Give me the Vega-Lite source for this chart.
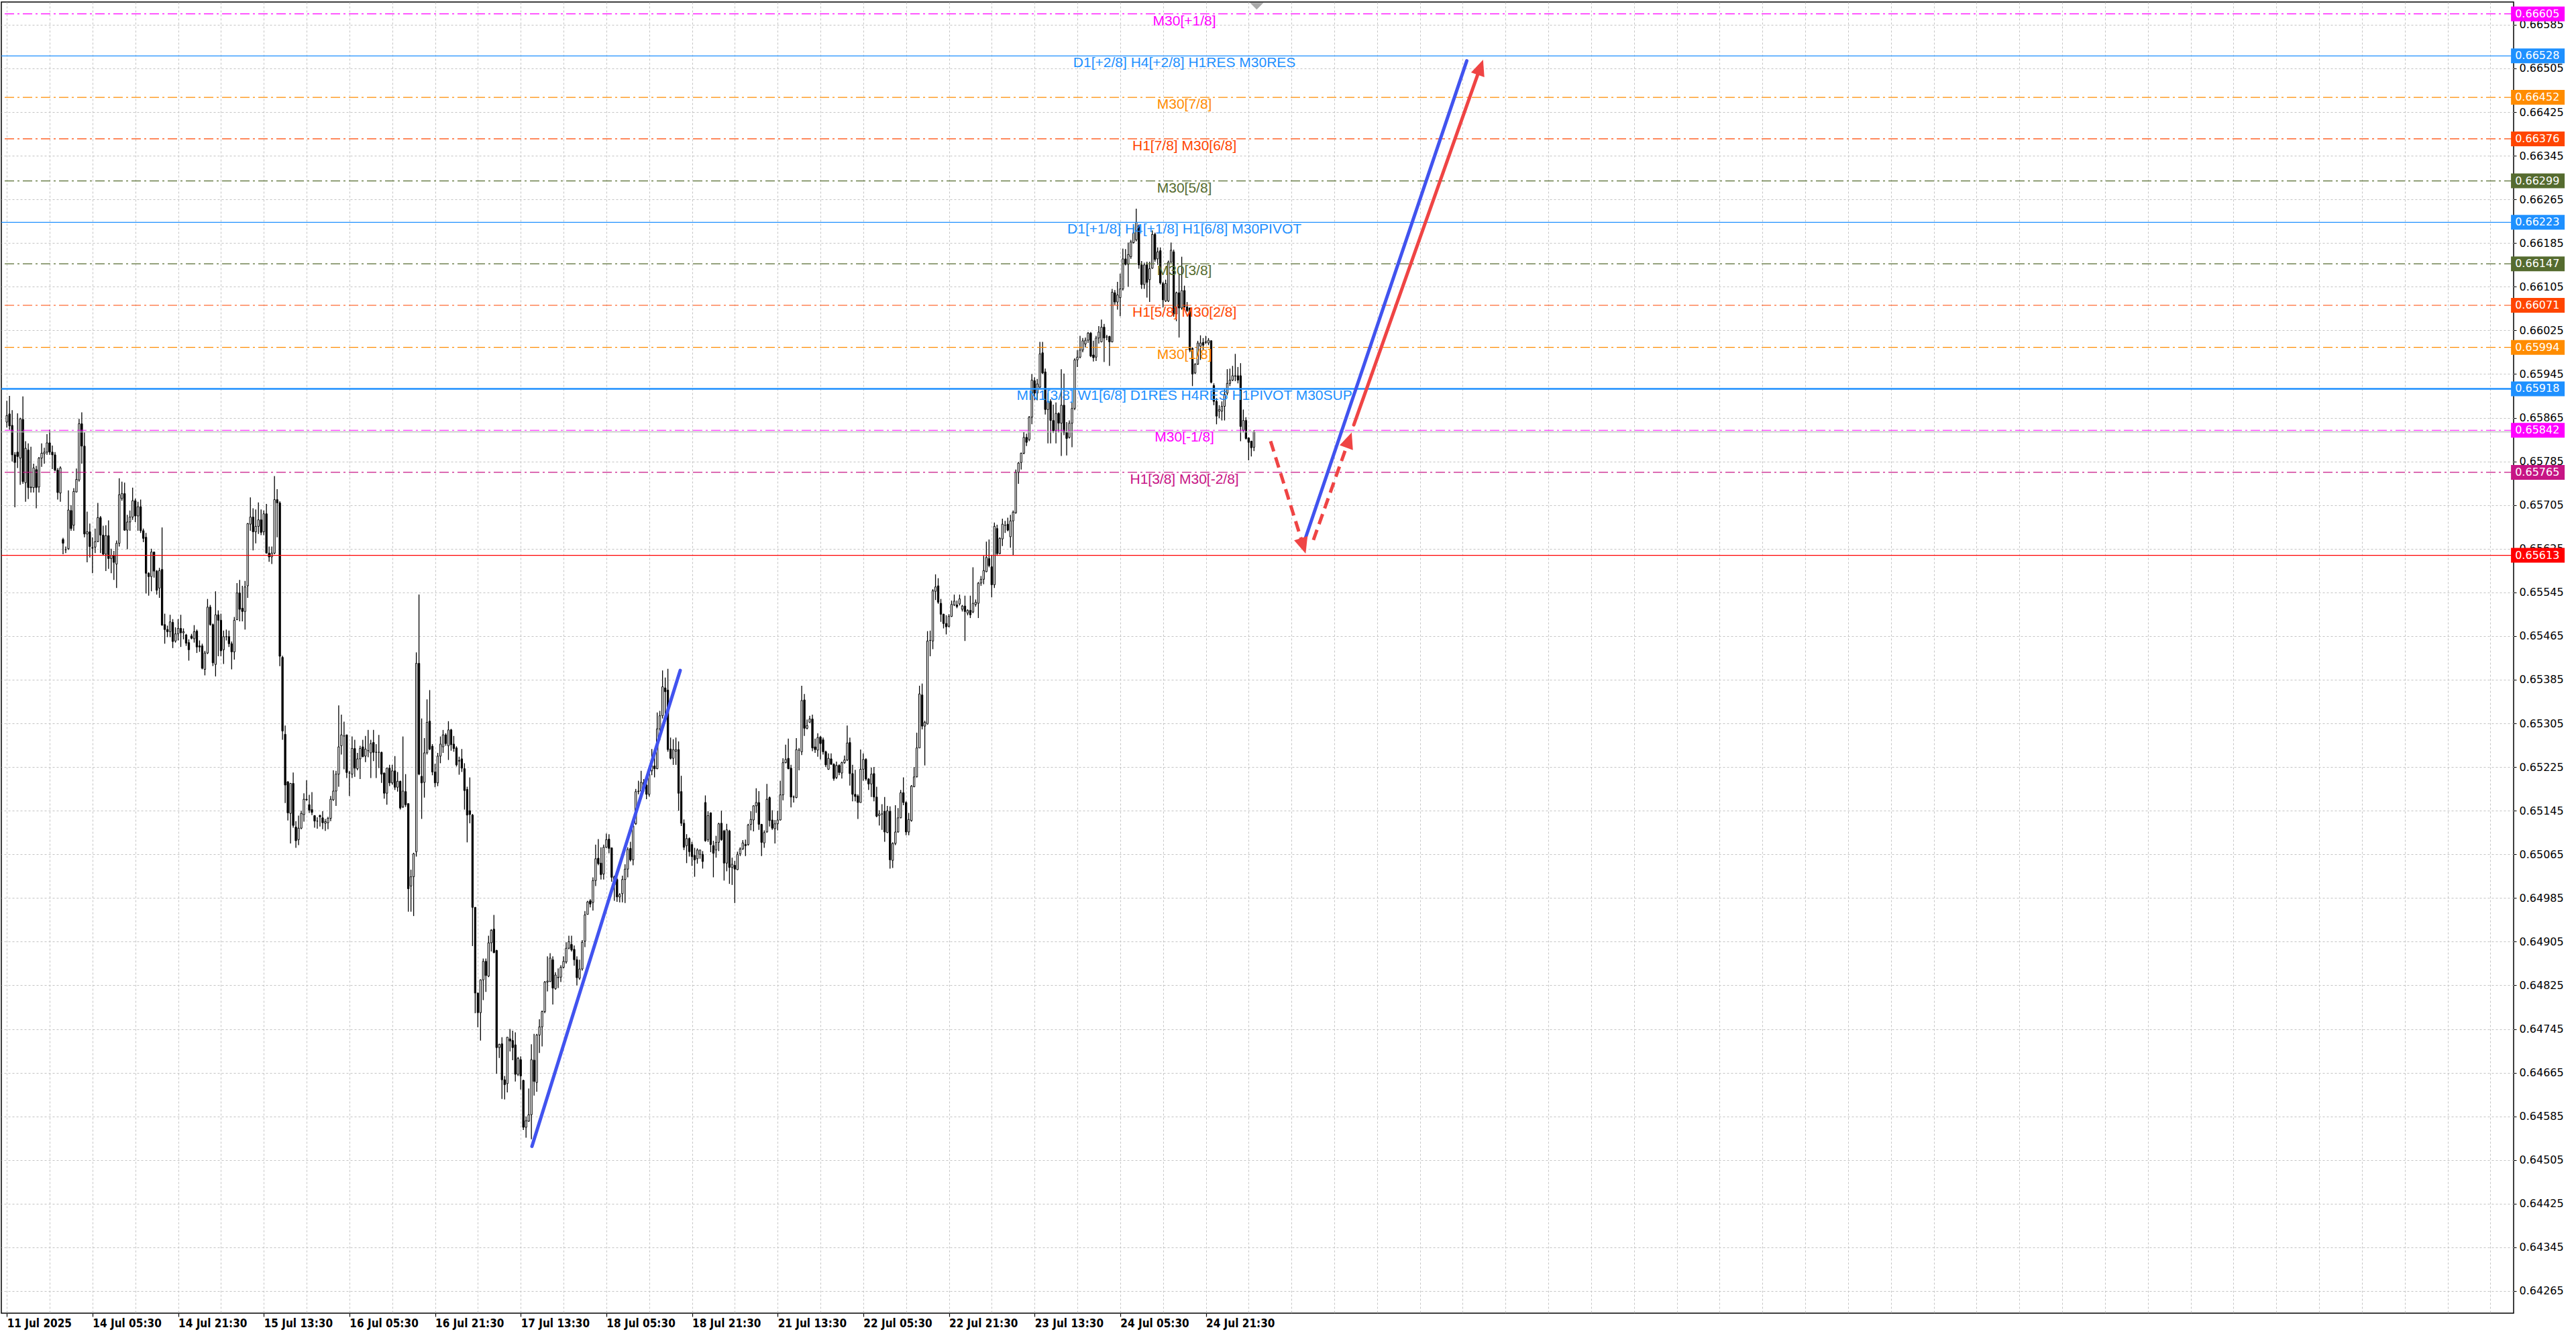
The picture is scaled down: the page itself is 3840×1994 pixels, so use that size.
{
  "$schema": "https://vega.github.io/schema/vega-lite/v6.json",
  "width": 3745,
  "height": 1954,
  "autosize": {"type": "none"},
  "padding": {"left": 2, "top": 3, "right": 93, "bottom": 37},
  "background": "#ffffff",
  "config": {"view": {"stroke": "#000000", "strokeWidth": 1.5}},
  "datasets": {
    "bars": [
      {"i":0,"o":0.65857,"h":0.65896,"l":0.65847,"c":0.65869},
      {"i":1,"o":0.65872,"h":0.65905,"l":0.65843,"c":0.65850},
      {"i":2,"o":0.65851,"h":0.65879,"l":0.65785,"c":0.65797},
      {"i":3,"o":0.65797,"h":0.65802,"l":0.65701,"c":0.65783},
      {"i":4,"o":0.65802,"h":0.65873,"l":0.65773,"c":0.65794},
      {"i":5,"o":0.65791,"h":0.65865,"l":0.65742,"c":0.65863},
      {"i":6,"o":0.65862,"h":0.65904,"l":0.65744,"c":0.65748},
      {"i":7,"o":0.65746,"h":0.65822,"l":0.65711,"c":0.65809},
      {"i":8,"o":0.65806,"h":0.65818,"l":0.65716,"c":0.65737},
      {"i":9,"o":0.65738,"h":0.65812,"l":0.65728,"c":0.65737},
      {"i":10,"o":0.65737,"h":0.65781,"l":0.65728,"c":0.65773},
      {"i":11,"o":0.65770,"h":0.65777,"l":0.65699,"c":0.65737},
      {"i":12,"o":0.65738,"h":0.65793,"l":0.65728,"c":0.65791},
      {"i":13,"o":0.65791,"h":0.65818,"l":0.65775,"c":0.65800},
      {"i":14,"o":0.65799,"h":0.65810,"l":0.65781,"c":0.65802},
      {"i":15,"o":0.65802,"h":0.65835,"l":0.65797,"c":0.65819},
      {"i":16,"o":0.65819,"h":0.65843,"l":0.65797,"c":0.65802},
      {"i":17,"o":0.65802,"h":0.65814,"l":0.65771,"c":0.65797},
      {"i":18,"o":0.65797,"h":0.65802,"l":0.65767,"c":0.65769},
      {"i":19,"o":0.65769,"h":0.65773,"l":0.65715,"c":0.65728},
      {"i":20,"o":0.65727,"h":0.65776,"l":0.65711,"c":0.65773},
      {"i":21,"o":0.65642,"h":0.65645,"l":0.65615,"c":0.65635},
      {"i":22,"o":0.65623,"h":0.65629,"l":0.65617,"c":0.65623},
      {"i":23,"o":0.65625,"h":0.65732,"l":0.65623,"c":0.65696},
      {"i":24,"o":0.65695,"h":0.65705,"l":0.65658,"c":0.65662},
      {"i":25,"o":0.65668,"h":0.65736,"l":0.65658,"c":0.65730},
      {"i":26,"o":0.65729,"h":0.65772,"l":0.65728,"c":0.65752},
      {"i":27,"o":0.65751,"h":0.65863,"l":0.65748,"c":0.65854},
      {"i":28,"o":0.65854,"h":0.65875,"l":0.65781,"c":0.65813},
      {"i":29,"o":0.65813,"h":0.65838,"l":0.65646,"c":0.65652},
      {"i":30,"o":0.65652,"h":0.65693,"l":0.65600,"c":0.65656},
      {"i":31,"o":0.65656,"h":0.65671,"l":0.65609,"c":0.65629},
      {"i":32,"o":0.65627,"h":0.65646,"l":0.65580,"c":0.65626},
      {"i":33,"o":0.65628,"h":0.65662,"l":0.65617,"c":0.65638},
      {"i":34,"o":0.65638,"h":0.65709,"l":0.65637,"c":0.65682},
      {"i":35,"o":0.65682,"h":0.65685,"l":0.65617,"c":0.65650},
      {"i":36,"o":0.65650,"h":0.65667,"l":0.65613,"c":0.65615},
      {"i":37,"o":0.65615,"h":0.65668,"l":0.65584,"c":0.65649},
      {"i":38,"o":0.65649,"h":0.65677,"l":0.65588,"c":0.65607},
      {"i":39,"o":0.65607,"h":0.65625,"l":0.65580,"c":0.65613},
      {"i":40,"o":0.65613,"h":0.65621,"l":0.65568,"c":0.65600},
      {"i":41,"o":0.65597,"h":0.65640,"l":0.65553,"c":0.65635},
      {"i":42,"o":0.65635,"h":0.65754,"l":0.65629,"c":0.65724},
      {"i":43,"o":0.65717,"h":0.65748,"l":0.65713,"c":0.65726},
      {"i":44,"o":0.65726,"h":0.65746,"l":0.65658,"c":0.65659},
      {"i":45,"o":0.65659,"h":0.65687,"l":0.65624,"c":0.65674},
      {"i":46,"o":0.65674,"h":0.65695,"l":0.65658,"c":0.65683},
      {"i":47,"o":0.65683,"h":0.65737,"l":0.65678,"c":0.65713},
      {"i":48,"o":0.65713,"h":0.65717,"l":0.65674,"c":0.65685},
      {"i":49,"o":0.65685,"h":0.65711,"l":0.65658,"c":0.65702},
      {"i":50,"o":0.65702,"h":0.65715,"l":0.65654,"c":0.65658},
      {"i":51,"o":0.65658,"h":0.65662,"l":0.65637,"c":0.65644},
      {"i":52,"o":0.65646,"h":0.65654,"l":0.65543,"c":0.65580},
      {"i":53,"o":0.65580,"h":0.65582,"l":0.65539,"c":0.65574},
      {"i":54,"o":0.65574,"h":0.65625,"l":0.65547,"c":0.65619},
      {"i":55,"o":0.65619,"h":0.65619,"l":0.65572,"c":0.65584},
      {"i":56,"o":0.65584,"h":0.65586,"l":0.65541,"c":0.65549},
      {"i":57,"o":0.65553,"h":0.65590,"l":0.65535,"c":0.65585},
      {"i":58,"o":0.65587,"h":0.65664,"l":0.65484,"c":0.65485},
      {"i":59,"o":0.65486,"h":0.65506,"l":0.65451,"c":0.65477},
      {"i":60,"o":0.65477,"h":0.65484,"l":0.65463,"c":0.65473},
      {"i":61,"o":0.65473,"h":0.65504,"l":0.65463,"c":0.65491},
      {"i":62,"o":0.65490,"h":0.65496,"l":0.65443,"c":0.65455},
      {"i":63,"o":0.65456,"h":0.65481,"l":0.65453,"c":0.65469},
      {"i":64,"o":0.65469,"h":0.65496,"l":0.65457,"c":0.65479},
      {"i":65,"o":0.65479,"h":0.65504,"l":0.65445,"c":0.65471},
      {"i":66,"o":0.65471,"h":0.65479,"l":0.65459,"c":0.65473},
      {"i":67,"o":0.65467,"h":0.65469,"l":0.65447,"c":0.65452},
      {"i":68,"o":0.65453,"h":0.65459,"l":0.65420,"c":0.65440},
      {"i":69,"o":0.65465,"h":0.65469,"l":0.65459,"c":0.65461},
      {"i":70,"o":0.65460,"h":0.65485,"l":0.65453,"c":0.65473},
      {"i":71,"o":0.65474,"h":0.65477,"l":0.65434,"c":0.65445},
      {"i":72,"o":0.65447,"h":0.65457,"l":0.65436,"c":0.65445},
      {"i":73,"o":0.65447,"h":0.65451,"l":0.65404,"c":0.65406},
      {"i":74,"o":0.65404,"h":0.65438,"l":0.65393,"c":0.65434},
      {"i":75,"o":0.65434,"h":0.65533,"l":0.65432,"c":0.65518},
      {"i":76,"o":0.65518,"h":0.65522,"l":0.65484,"c":0.65486},
      {"i":77,"o":0.65486,"h":0.65488,"l":0.65410,"c":0.65416},
      {"i":78,"o":0.65413,"h":0.65547,"l":0.65391,"c":0.65504},
      {"i":79,"o":0.65504,"h":0.65512,"l":0.65428,"c":0.65494},
      {"i":80,"o":0.65494,"h":0.65506,"l":0.65428,"c":0.65438},
      {"i":81,"o":0.65440,"h":0.65475,"l":0.65414,"c":0.65464},
      {"i":82,"o":0.65464,"h":0.65477,"l":0.65457,"c":0.65464},
      {"i":83,"o":0.65464,"h":0.65475,"l":0.65445,"c":0.65451},
      {"i":84,"o":0.65451,"h":0.65455,"l":0.65404,"c":0.65436},
      {"i":85,"o":0.65436,"h":0.65500,"l":0.65422,"c":0.65494},
      {"i":86,"o":0.65495,"h":0.65562,"l":0.65494,"c":0.65544},
      {"i":87,"o":0.65544,"h":0.65568,"l":0.65492,"c":0.65514},
      {"i":88,"o":0.65516,"h":0.65557,"l":0.65492,"c":0.65510},
      {"i":89,"o":0.65510,"h":0.65566,"l":0.65477,"c":0.65555},
      {"i":90,"o":0.65557,"h":0.65672,"l":0.65535,"c":0.65671},
      {"i":91,"o":0.65670,"h":0.65719,"l":0.65658,"c":0.65683},
      {"i":92,"o":0.65683,"h":0.65699,"l":0.65622,"c":0.65656},
      {"i":93,"o":0.65656,"h":0.65697,"l":0.65635,"c":0.65666},
      {"i":94,"o":0.65666,"h":0.65710,"l":0.65652,"c":0.65678},
      {"i":95,"o":0.65678,"h":0.65697,"l":0.65650,"c":0.65655},
      {"i":96,"o":0.65656,"h":0.65695,"l":0.65650,"c":0.65689},
      {"i":97,"o":0.65689,"h":0.65707,"l":0.65616,"c":0.65617},
      {"i":98,"o":0.65617,"h":0.65629,"l":0.65601,"c":0.65610},
      {"i":99,"o":0.65610,"h":0.65629,"l":0.65597,"c":0.65617},
      {"i":100,"o":0.65617,"h":0.65758,"l":0.65615,"c":0.65715},
      {"i":101,"o":0.65715,"h":0.65734,"l":0.65646,"c":0.65709},
      {"i":102,"o":0.65709,"h":0.65712,"l":0.65410,"c":0.65428},
      {"i":103,"o":0.65426,"h":0.65429,"l":0.65275,"c":0.65291},
      {"i":104,"o":0.65285,"h":0.65301,"l":0.65159,"c":0.65192},
      {"i":105,"o":0.65198,"h":0.65199,"l":0.65127,"c":0.65141},
      {"i":106,"o":0.65140,"h":0.65196,"l":0.65085,"c":0.65195},
      {"i":107,"o":0.65195,"h":0.65215,"l":0.65114,"c":0.65118},
      {"i":108,"o":0.65115,"h":0.65126,"l":0.65077,"c":0.65090},
      {"i":109,"o":0.65092,"h":0.65136,"l":0.65082,"c":0.65113},
      {"i":110,"o":0.65113,"h":0.65145,"l":0.65111,"c":0.65140},
      {"i":111,"o":0.65138,"h":0.65177,"l":0.65125,"c":0.65166},
      {"i":112,"o":0.65166,"h":0.65201,"l":0.65163,"c":0.65165},
      {"i":113,"o":0.65156,"h":0.65174,"l":0.65141,"c":0.65146},
      {"i":114,"o":0.65147,"h":0.65179,"l":0.65137,"c":0.65142},
      {"i":115,"o":0.65136,"h":0.65137,"l":0.65114,"c":0.65126},
      {"i":116,"o":0.65126,"h":0.65133,"l":0.65112,"c":0.65126},
      {"i":117,"o":0.65136,"h":0.65138,"l":0.65116,"c":0.65134},
      {"i":118,"o":0.65132,"h":0.65144,"l":0.65111,"c":0.65123},
      {"i":119,"o":0.65122,"h":0.65130,"l":0.65108,"c":0.65125},
      {"i":120,"o":0.65123,"h":0.65134,"l":0.65111,"c":0.65131},
      {"i":121,"o":0.65131,"h":0.65172,"l":0.65126,"c":0.65166},
      {"i":122,"o":0.65165,"h":0.65219,"l":0.65163,"c":0.65181},
      {"i":123,"o":0.65181,"h":0.65218,"l":0.65154,"c":0.65212},
      {"i":124,"o":0.65212,"h":0.65338,"l":0.65189,"c":0.65262},
      {"i":125,"o":0.65264,"h":0.65321,"l":0.65248,"c":0.65284},
      {"i":126,"o":0.65282,"h":0.65308,"l":0.65221,"c":0.65282},
      {"i":127,"o":0.65284,"h":0.65284,"l":0.65205,"c":0.65215},
      {"i":128,"o":0.65214,"h":0.65218,"l":0.65172,"c":0.65214},
      {"i":129,"o":0.65212,"h":0.65281,"l":0.65205,"c":0.65259},
      {"i":130,"o":0.65259,"h":0.65275,"l":0.65207,"c":0.65223},
      {"i":131,"o":0.65222,"h":0.65251,"l":0.65219,"c":0.65240},
      {"i":132,"o":0.65240,"h":0.65264,"l":0.65203,"c":0.65259},
      {"i":133,"o":0.65262,"h":0.65275,"l":0.65243,"c":0.65244},
      {"i":134,"o":0.65245,"h":0.65282,"l":0.65234,"c":0.65258},
      {"i":135,"o":0.65255,"h":0.65293,"l":0.65243,"c":0.65255},
      {"i":136,"o":0.65251,"h":0.65275,"l":0.65205,"c":0.65268},
      {"i":137,"o":0.65270,"h":0.65293,"l":0.65236,"c":0.65252},
      {"i":138,"o":0.65252,"h":0.65267,"l":0.65205,"c":0.65252},
      {"i":139,"o":0.65252,"h":0.65284,"l":0.65223,"c":0.65252},
      {"i":140,"o":0.65252,"h":0.65253,"l":0.65196,"c":0.65212},
      {"i":141,"o":0.65214,"h":0.65215,"l":0.65167,"c":0.65177},
      {"i":142,"o":0.65177,"h":0.65224,"l":0.65156,"c":0.65223},
      {"i":143,"o":0.65223,"h":0.65229,"l":0.65190,"c":0.65196},
      {"i":144,"o":0.65196,"h":0.65229,"l":0.65193,"c":0.65218},
      {"i":145,"o":0.65218,"h":0.65245,"l":0.65183,"c":0.65188},
      {"i":146,"o":0.65188,"h":0.65216,"l":0.65180,"c":0.65199},
      {"i":147,"o":0.65199,"h":0.65200,"l":0.65147,"c":0.65150},
      {"i":148,"o":0.65152,"h":0.65281,"l":0.65150,"c":0.65181},
      {"i":149,"o":0.65180,"h":0.65212,"l":0.65152,"c":0.65156},
      {"i":150,"o":0.65158,"h":0.65158,"l":0.64960,"c":0.65002},
      {"i":151,"o":0.65007,"h":0.65037,"l":0.64960,"c":0.65024},
      {"i":152,"o":0.65024,"h":0.65068,"l":0.64952,"c":0.65066},
      {"i":153,"o":0.65070,"h":0.65435,"l":0.65061,"c":0.65415},
      {"i":154,"o":0.65415,"h":0.65541,"l":0.65210,"c":0.65212},
      {"i":155,"o":0.65208,"h":0.65314,"l":0.65130,"c":0.65196},
      {"i":156,"o":0.65197,"h":0.65278,"l":0.65169,"c":0.65251},
      {"i":157,"o":0.65251,"h":0.65349,"l":0.65248,"c":0.65307},
      {"i":158,"o":0.65309,"h":0.65366,"l":0.65256,"c":0.65258},
      {"i":159,"o":0.65263,"h":0.65267,"l":0.65210,"c":0.65216},
      {"i":160,"o":0.65216,"h":0.65231,"l":0.65188,"c":0.65196},
      {"i":161,"o":0.65196,"h":0.65251,"l":0.65190,"c":0.65245},
      {"i":162,"o":0.65245,"h":0.65281,"l":0.65232,"c":0.65267},
      {"i":163,"o":0.65262,"h":0.65293,"l":0.65251,"c":0.65284},
      {"i":164,"o":0.65284,"h":0.65287,"l":0.65264,"c":0.65268},
      {"i":165,"o":0.65264,"h":0.65309,"l":0.65238,"c":0.65293},
      {"i":166,"o":0.65293,"h":0.65295,"l":0.65255,"c":0.65266},
      {"i":167,"o":0.65267,"h":0.65282,"l":0.65253,"c":0.65259},
      {"i":168,"o":0.65260,"h":0.65263,"l":0.65226,"c":0.65229},
      {"i":169,"o":0.65237,"h":0.65244,"l":0.65211,"c":0.65236},
      {"i":170,"o":0.65240,"h":0.65258,"l":0.65216,"c":0.65223},
      {"i":171,"o":0.65222,"h":0.65232,"l":0.65147,"c":0.65182},
      {"i":172,"o":0.65184,"h":0.65189,"l":0.65087,"c":0.65137},
      {"i":173,"o":0.65145,"h":0.65206,"l":0.65122,"c":0.65138},
      {"i":174,"o":0.65137,"h":0.65139,"l":0.64897,"c":0.64968},
      {"i":175,"o":0.64968,"h":0.64968,"l":0.64774,"c":0.64811},
      {"i":176,"o":0.64811,"h":0.64811,"l":0.64748,"c":0.64775},
      {"i":177,"o":0.64775,"h":0.64836,"l":0.64724,"c":0.64835},
      {"i":178,"o":0.64835,"h":0.64874,"l":0.64798,"c":0.64869},
      {"i":179,"o":0.64869,"h":0.64874,"l":0.64813,"c":0.64843},
      {"i":180,"o":0.64842,"h":0.64916,"l":0.64840,"c":0.64903},
      {"i":181,"o":0.64903,"h":0.64928,"l":0.64887,"c":0.64926},
      {"i":182,"o":0.64928,"h":0.64954,"l":0.64884,"c":0.64885},
      {"i":183,"o":0.64889,"h":0.64890,"l":0.64663,"c":0.64711},
      {"i":184,"o":0.64711,"h":0.64718,"l":0.64692,"c":0.64717},
      {"i":185,"o":0.64718,"h":0.64730,"l":0.64617,"c":0.64652},
      {"i":186,"o":0.64652,"h":0.64659,"l":0.64616,"c":0.64643},
      {"i":187,"o":0.64645,"h":0.64730,"l":0.64629,"c":0.64730},
      {"i":188,"o":0.64727,"h":0.64745,"l":0.64704,"c":0.64723},
      {"i":189,"o":0.64724,"h":0.64742,"l":0.64688,"c":0.64711},
      {"i":190,"o":0.64716,"h":0.64739,"l":0.64649,"c":0.64662},
      {"i":191,"o":0.64662,"h":0.64694,"l":0.64659,"c":0.64691},
      {"i":192,"o":0.64689,"h":0.64695,"l":0.64634,"c":0.64659},
      {"i":193,"o":0.64651,"h":0.64652,"l":0.64560,"c":0.64565},
      {"i":194,"o":0.64565,"h":0.64585,"l":0.64546,"c":0.64577},
      {"i":195,"o":0.64576,"h":0.64636,"l":0.64575,"c":0.64588},
      {"i":196,"o":0.64588,"h":0.64717,"l":0.64543,"c":0.64689},
      {"i":197,"o":0.64688,"h":0.64736,"l":0.64623,"c":0.64649},
      {"i":198,"o":0.64647,"h":0.64736,"l":0.64630,"c":0.64734},
      {"i":199,"o":0.64734,"h":0.64763,"l":0.64701,"c":0.64749},
      {"i":200,"o":0.64749,"h":0.64779,"l":0.64713,"c":0.64777},
      {"i":201,"o":0.64777,"h":0.64833,"l":0.64774,"c":0.64831},
      {"i":202,"o":0.64831,"h":0.64878,"l":0.64814,"c":0.64833},
      {"i":203,"o":0.64832,"h":0.64884,"l":0.64831,"c":0.64875},
      {"i":204,"o":0.64872,"h":0.64878,"l":0.64790,"c":0.64820},
      {"i":205,"o":0.64819,"h":0.64849,"l":0.64817,"c":0.64844},
      {"i":206,"o":0.64839,"h":0.64856,"l":0.64820,"c":0.64840},
      {"i":207,"o":0.64840,"h":0.64862,"l":0.64831,"c":0.64858},
      {"i":208,"o":0.64858,"h":0.64878,"l":0.64856,"c":0.64869},
      {"i":209,"o":0.64868,"h":0.64904,"l":0.64865,"c":0.64893},
      {"i":210,"o":0.64893,"h":0.64916,"l":0.64891,"c":0.64905},
      {"i":211,"o":0.64900,"h":0.64916,"l":0.64887,"c":0.64890},
      {"i":212,"o":0.64891,"h":0.64898,"l":0.64861,"c":0.64872},
      {"i":213,"o":0.64872,"h":0.64878,"l":0.64825,"c":0.64839},
      {"i":214,"o":0.64838,"h":0.64872,"l":0.64835,"c":0.64855},
      {"i":215,"o":0.64855,"h":0.64908,"l":0.64852,"c":0.64904},
      {"i":216,"o":0.64906,"h":0.64961,"l":0.64895,"c":0.64954},
      {"i":217,"o":0.64955,"h":0.64980,"l":0.64955,"c":0.64978},
      {"i":218,"o":0.64980,"h":0.64983,"l":0.64968,"c":0.64974},
      {"i":219,"o":0.64977,"h":0.65023,"l":0.64962,"c":0.65017},
      {"i":220,"o":0.65017,"h":0.65083,"l":0.65007,"c":0.65057},
      {"i":221,"o":0.65058,"h":0.65093,"l":0.65045,"c":0.65048},
      {"i":222,"o":0.65049,"h":0.65078,"l":0.65019,"c":0.65028},
      {"i":223,"o":0.65029,"h":0.65083,"l":0.65019,"c":0.65078},
      {"i":224,"o":0.65078,"h":0.65103,"l":0.65077,"c":0.65092},
      {"i":225,"o":0.65093,"h":0.65102,"l":0.65067,"c":0.65076},
      {"i":226,"o":0.65077,"h":0.65077,"l":0.65015,"c":0.65023},
      {"i":227,"o":0.65024,"h":0.65026,"l":0.64980,"c":0.65009},
      {"i":228,"o":0.65019,"h":0.65022,"l":0.64978,"c":0.64987},
      {"i":229,"o":0.64987,"h":0.64994,"l":0.64977,"c":0.64991},
      {"i":230,"o":0.64993,"h":0.65026,"l":0.64977,"c":0.65019},
      {"i":231,"o":0.65019,"h":0.65047,"l":0.64976,"c":0.65038},
      {"i":232,"o":0.65038,"h":0.65078,"l":0.65023,"c":0.65074},
      {"i":233,"o":0.65076,"h":0.65088,"l":0.65052,"c":0.65055},
      {"i":234,"o":0.65055,"h":0.65122,"l":0.65045,"c":0.65117},
      {"i":235,"o":0.65121,"h":0.65185,"l":0.65119,"c":0.65180},
      {"i":236,"o":0.65180,"h":0.65200,"l":0.65175,"c":0.65181},
      {"i":237,"o":0.65181,"h":0.65218,"l":0.65177,"c":0.65197},
      {"i":238,"o":0.65197,"h":0.65203,"l":0.65180,"c":0.65189},
      {"i":239,"o":0.65192,"h":0.65203,"l":0.65166,"c":0.65175},
      {"i":240,"o":0.65175,"h":0.65215,"l":0.65171,"c":0.65212},
      {"i":241,"o":0.65218,"h":0.65258,"l":0.65210,"c":0.65227},
      {"i":242,"o":0.65227,"h":0.65250,"l":0.65206,"c":0.65222},
      {"i":243,"o":0.65222,"h":0.65325,"l":0.65221,"c":0.65295},
      {"i":244,"o":0.65295,"h":0.65328,"l":0.65274,"c":0.65319},
      {"i":245,"o":0.65319,"h":0.65402,"l":0.65314,"c":0.65372},
      {"i":246,"o":0.65370,"h":0.65389,"l":0.65314,"c":0.65363},
      {"i":247,"o":0.65366,"h":0.65405,"l":0.65253,"c":0.65257},
      {"i":248,"o":0.65258,"h":0.65279,"l":0.65239,"c":0.65241},
      {"i":249,"o":0.65241,"h":0.65276,"l":0.65229,"c":0.65257},
      {"i":250,"o":0.65254,"h":0.65279,"l":0.65229,"c":0.65257},
      {"i":251,"o":0.65257,"h":0.65272,"l":0.65145,"c":0.65177},
      {"i":252,"o":0.65180,"h":0.65209,"l":0.65117,"c":0.65122},
      {"i":253,"o":0.65122,"h":0.65129,"l":0.65073,"c":0.65078},
      {"i":254,"o":0.65081,"h":0.65102,"l":0.65049,"c":0.65094},
      {"i":255,"o":0.65094,"h":0.65096,"l":0.65061,"c":0.65070},
      {"i":256,"o":0.65083,"h":0.65088,"l":0.65044,"c":0.65061},
      {"i":257,"o":0.65063,"h":0.65077,"l":0.65024,"c":0.65055},
      {"i":258,"o":0.65057,"h":0.65076,"l":0.65048,"c":0.65073},
      {"i":259,"o":0.65065,"h":0.65073,"l":0.65057,"c":0.65073},
      {"i":260,"o":0.65065,"h":0.65071,"l":0.65039,"c":0.65052},
      {"i":261,"o":0.65160,"h":0.65173,"l":0.65088,"c":0.65090},
      {"i":262,"o":0.65092,"h":0.65144,"l":0.65088,"c":0.65136},
      {"i":263,"o":0.65141,"h":0.65142,"l":0.65069,"c":0.65083},
      {"i":264,"o":0.65081,"h":0.65090,"l":0.65023,"c":0.65067},
      {"i":265,"o":0.65073,"h":0.65099,"l":0.65059,"c":0.65087},
      {"i":266,"o":0.65087,"h":0.65123,"l":0.65071,"c":0.65121},
      {"i":267,"o":0.65122,"h":0.65145,"l":0.65090,"c":0.65092},
      {"i":268,"o":0.65108,"h":0.65110,"l":0.65017,"c":0.65049},
      {"i":269,"o":0.65049,"h":0.65121,"l":0.65034,"c":0.65110},
      {"i":270,"o":0.65108,"h":0.65110,"l":0.65011,"c":0.65041},
      {"i":271,"o":0.65041,"h":0.65059,"l":0.65009,"c":0.65047},
      {"i":272,"o":0.65045,"h":0.65053,"l":0.64976,"c":0.65038},
      {"i":273,"o":0.65037,"h":0.65070,"l":0.65036,"c":0.65065},
      {"i":274,"o":0.65066,"h":0.65078,"l":0.65062,"c":0.65075},
      {"i":275,"o":0.65075,"h":0.65091,"l":0.65073,"c":0.65086},
      {"i":276,"o":0.65083,"h":0.65092,"l":0.65062,"c":0.65081},
      {"i":277,"o":0.65083,"h":0.65121,"l":0.65081,"c":0.65119},
      {"i":278,"o":0.65120,"h":0.65144,"l":0.65109,"c":0.65129},
      {"i":279,"o":0.65128,"h":0.65155,"l":0.65107,"c":0.65154},
      {"i":280,"o":0.65154,"h":0.65186,"l":0.65141,"c":0.65160},
      {"i":281,"o":0.65160,"h":0.65181,"l":0.65110,"c":0.65120},
      {"i":282,"o":0.65120,"h":0.65121,"l":0.65062,"c":0.65087},
      {"i":283,"o":0.65086,"h":0.65109,"l":0.65077,"c":0.65105},
      {"i":284,"o":0.65106,"h":0.65194,"l":0.65105,"c":0.65166},
      {"i":285,"o":0.65169,"h":0.65171,"l":0.65116,"c":0.65127},
      {"i":286,"o":0.65128,"h":0.65146,"l":0.65110,"c":0.65113},
      {"i":287,"o":0.65112,"h":0.65128,"l":0.65085,"c":0.65121},
      {"i":288,"o":0.65121,"h":0.65145,"l":0.65109,"c":0.65128},
      {"i":289,"o":0.65128,"h":0.65200,"l":0.65127,"c":0.65174},
      {"i":290,"o":0.65174,"h":0.65241,"l":0.65164,"c":0.65233},
      {"i":291,"o":0.65233,"h":0.65266,"l":0.65232,"c":0.65239},
      {"i":292,"o":0.65241,"h":0.65277,"l":0.65221,"c":0.65222},
      {"i":293,"o":0.65223,"h":0.65229,"l":0.65151,"c":0.65170},
      {"i":294,"o":0.65170,"h":0.65173,"l":0.65160,"c":0.65170},
      {"i":295,"o":0.65169,"h":0.65278,"l":0.65168,"c":0.65257},
      {"i":296,"o":0.65256,"h":0.65260,"l":0.65219,"c":0.65256},
      {"i":297,"o":0.65253,"h":0.65374,"l":0.65247,"c":0.65347},
      {"i":298,"o":0.65348,"h":0.65359,"l":0.65282,"c":0.65296},
      {"i":299,"o":0.65296,"h":0.65312,"l":0.65294,"c":0.65301},
      {"i":300,"o":0.65307,"h":0.65319,"l":0.65306,"c":0.65313},
      {"i":301,"o":0.65313,"h":0.65321,"l":0.65254,"c":0.65260},
      {"i":302,"o":0.65262,"h":0.65277,"l":0.65251,"c":0.65257},
      {"i":303,"o":0.65256,"h":0.65287,"l":0.65244,"c":0.65279},
      {"i":304,"o":0.65280,"h":0.65282,"l":0.65239,"c":0.65268},
      {"i":305,"o":0.65275,"h":0.65279,"l":0.65248,"c":0.65253},
      {"i":306,"o":0.65253,"h":0.65255,"l":0.65225,"c":0.65229},
      {"i":307,"o":0.65221,"h":0.65250,"l":0.65220,"c":0.65241},
      {"i":308,"o":0.65240,"h":0.65250,"l":0.65229,"c":0.65230},
      {"i":309,"o":0.65230,"h":0.65232,"l":0.65200,"c":0.65204},
      {"i":310,"o":0.65206,"h":0.65235,"l":0.65203,"c":0.65228},
      {"i":311,"o":0.65228,"h":0.65230,"l":0.65210,"c":0.65215},
      {"i":312,"o":0.65214,"h":0.65235,"l":0.65204,"c":0.65233},
      {"i":313,"o":0.65233,"h":0.65246,"l":0.65231,"c":0.65238},
      {"i":314,"o":0.65238,"h":0.65301,"l":0.65236,"c":0.65269},
      {"i":315,"o":0.65270,"h":0.65279,"l":0.65191,"c":0.65213},
      {"i":316,"o":0.65213,"h":0.65229,"l":0.65162,"c":0.65175},
      {"i":317,"o":0.65175,"h":0.65220,"l":0.65162,"c":0.65171},
      {"i":318,"o":0.65172,"h":0.65175,"l":0.65130,"c":0.65160},
      {"i":319,"o":0.65160,"h":0.65257,"l":0.65160,"c":0.65221},
      {"i":320,"o":0.65221,"h":0.65250,"l":0.65200,"c":0.65239},
      {"i":321,"o":0.65239,"h":0.65241,"l":0.65200,"c":0.65203},
      {"i":322,"o":0.65203,"h":0.65205,"l":0.65183,"c":0.65194},
      {"i":323,"o":0.65194,"h":0.65224,"l":0.65170,"c":0.65212},
      {"i":324,"o":0.65213,"h":0.65225,"l":0.65162,"c":0.65170},
      {"i":325,"o":0.65170,"h":0.65189,"l":0.65133,"c":0.65135},
      {"i":326,"o":0.65136,"h":0.65146,"l":0.65118,"c":0.65139},
      {"i":327,"o":0.65139,"h":0.65157,"l":0.65110,"c":0.65139},
      {"i":328,"o":0.65144,"h":0.65170,"l":0.65088,"c":0.65106},
      {"i":329,"o":0.65105,"h":0.65154,"l":0.65104,"c":0.65145},
      {"i":330,"o":0.65144,"h":0.65153,"l":0.65039,"c":0.65055},
      {"i":331,"o":0.65054,"h":0.65087,"l":0.65040,"c":0.65085},
      {"i":332,"o":0.65085,"h":0.65155,"l":0.65082,"c":0.65106},
      {"i":333,"o":0.65106,"h":0.65150,"l":0.65105,"c":0.65132},
      {"i":334,"o":0.65132,"h":0.65183,"l":0.65131,"c":0.65178},
      {"i":335,"o":0.65178,"h":0.65206,"l":0.65155,"c":0.65160},
      {"i":336,"o":0.65160,"h":0.65162,"l":0.65100,"c":0.65106},
      {"i":337,"o":0.65106,"h":0.65141,"l":0.65100,"c":0.65129},
      {"i":338,"o":0.65127,"h":0.65192,"l":0.65125,"c":0.65190},
      {"i":339,"o":0.65189,"h":0.65225,"l":0.65188,"c":0.65207},
      {"i":340,"o":0.65207,"h":0.65288,"l":0.65206,"c":0.65260},
      {"i":341,"o":0.65260,"h":0.65374,"l":0.65260,"c":0.65359},
      {"i":342,"o":0.65357,"h":0.65378,"l":0.65294,"c":0.65300},
      {"i":343,"o":0.65300,"h":0.65310,"l":0.65228,"c":0.65307},
      {"i":344,"o":0.65304,"h":0.65474,"l":0.65303,"c":0.65456},
      {"i":345,"o":0.65457,"h":0.65475,"l":0.65428,"c":0.65457},
      {"i":346,"o":0.65456,"h":0.65551,"l":0.65441,"c":0.65548},
      {"i":347,"o":0.65547,"h":0.65578,"l":0.65531,"c":0.65555},
      {"i":348,"o":0.65557,"h":0.65571,"l":0.65524,"c":0.65527},
      {"i":349,"o":0.65525,"h":0.65533,"l":0.65491,"c":0.65505},
      {"i":350,"o":0.65505,"h":0.65506,"l":0.65479,"c":0.65488},
      {"i":351,"o":0.65488,"h":0.65503,"l":0.65468,"c":0.65482},
      {"i":352,"o":0.65483,"h":0.65505,"l":0.65481,"c":0.65501},
      {"i":353,"o":0.65501,"h":0.65530,"l":0.65500,"c":0.65523},
      {"i":354,"o":0.65522,"h":0.65541,"l":0.65520,"c":0.65529},
      {"i":355,"o":0.65522,"h":0.65530,"l":0.65516,"c":0.65519},
      {"i":356,"o":0.65524,"h":0.65541,"l":0.65521,"c":0.65533},
      {"i":357,"o":0.65514,"h":0.65522,"l":0.65510,"c":0.65520},
      {"i":358,"o":0.65520,"h":0.65539,"l":0.65456,"c":0.65510},
      {"i":359,"o":0.65507,"h":0.65514,"l":0.65503,"c":0.65512},
      {"i":360,"o":0.65512,"h":0.65539,"l":0.65498,"c":0.65504},
      {"i":361,"o":0.65509,"h":0.65591,"l":0.65507,"c":0.65525},
      {"i":362,"o":0.65523,"h":0.65532,"l":0.65519,"c":0.65527},
      {"i":363,"o":0.65525,"h":0.65564,"l":0.65498,"c":0.65562},
      {"i":364,"o":0.65562,"h":0.65575,"l":0.65557,"c":0.65569},
      {"i":365,"o":0.65569,"h":0.65612,"l":0.65560,"c":0.65585},
      {"i":366,"o":0.65583,"h":0.65638,"l":0.65582,"c":0.65609},
      {"i":367,"o":0.65607,"h":0.65642,"l":0.65591,"c":0.65594},
      {"i":368,"o":0.65592,"h":0.65613,"l":0.65536,"c":0.65559},
      {"i":369,"o":0.65559,"h":0.65673,"l":0.65553,"c":0.65666},
      {"i":370,"o":0.65662,"h":0.65669,"l":0.65612,"c":0.65616},
      {"i":371,"o":0.65616,"h":0.65646,"l":0.65615,"c":0.65644},
      {"i":372,"o":0.65643,"h":0.65680,"l":0.65630,"c":0.65670},
      {"i":373,"o":0.65668,"h":0.65676,"l":0.65654,"c":0.65668},
      {"i":374,"o":0.65670,"h":0.65682,"l":0.65657,"c":0.65659},
      {"i":375,"o":0.65647,"h":0.65687,"l":0.65627,"c":0.65676},
      {"i":376,"o":0.65676,"h":0.65695,"l":0.65613,"c":0.65692},
      {"i":377,"o":0.65691,"h":0.65770,"l":0.65689,"c":0.65765},
      {"i":378,"o":0.65765,"h":0.65784,"l":0.65744,"c":0.65782},
      {"i":379,"o":0.65783,"h":0.65801,"l":0.65770,"c":0.65800},
      {"i":380,"o":0.65800,"h":0.65840,"l":0.65798,"c":0.65829},
      {"i":381,"o":0.65829,"h":0.65836,"l":0.65813,"c":0.65820},
      {"i":382,"o":0.65825,"h":0.65868,"l":0.65822,"c":0.65866},
      {"i":383,"o":0.65866,"h":0.65945,"l":0.65853,"c":0.65934},
      {"i":384,"o":0.65933,"h":0.65939,"l":0.65897,"c":0.65910},
      {"i":385,"o":0.65910,"h":0.65936,"l":0.65897,"c":0.65927},
      {"i":386,"o":0.65921,"h":0.66004,"l":0.65919,"c":0.65982},
      {"i":387,"o":0.65984,"h":0.66004,"l":0.65945,"c":0.65947},
      {"i":388,"o":0.65949,"h":0.65955,"l":0.65871,"c":0.65880},
      {"i":389,"o":0.65880,"h":0.65910,"l":0.65818,"c":0.65895},
      {"i":390,"o":0.65895,"h":0.65899,"l":0.65818,"c":0.65860},
      {"i":391,"o":0.65860,"h":0.65889,"l":0.65837,"c":0.65841},
      {"i":392,"o":0.65841,"h":0.65893,"l":0.65818,"c":0.65873},
      {"i":393,"o":0.65873,"h":0.65875,"l":0.65838,"c":0.65855},
      {"i":394,"o":0.65855,"h":0.65954,"l":0.65795,"c":0.65888},
      {"i":395,"o":0.65888,"h":0.65946,"l":0.65833,"c":0.65838},
      {"i":396,"o":0.65838,"h":0.65857,"l":0.65796,"c":0.65827},
      {"i":397,"o":0.65829,"h":0.65860,"l":0.65827,"c":0.65855},
      {"i":398,"o":0.65855,"h":0.65895,"l":0.65811,"c":0.65882},
      {"i":399,"o":0.65882,"h":0.65974,"l":0.65879,"c":0.65971},
      {"i":400,"o":0.65971,"h":0.65989,"l":0.65958,"c":0.65976},
      {"i":401,"o":0.65976,"h":0.66015,"l":0.65974,"c":0.65989},
      {"i":402,"o":0.65989,"h":0.66011,"l":0.65985,"c":0.66006},
      {"i":403,"o":0.66000,"h":0.66012,"l":0.65994,"c":0.66007},
      {"i":404,"o":0.66007,"h":0.66022,"l":0.66002,"c":0.66020},
      {"i":405,"o":0.66020,"h":0.66022,"l":0.65976,"c":0.65978},
      {"i":406,"o":0.65980,"h":0.66006,"l":0.65968,"c":0.65975},
      {"i":407,"o":0.65976,"h":0.66015,"l":0.65969,"c":0.66011},
      {"i":408,"o":0.66011,"h":0.66033,"l":0.66001,"c":0.66022},
      {"i":409,"o":0.66004,"h":0.66045,"l":0.66003,"c":0.66031},
      {"i":410,"o":0.66031,"h":0.66037,"l":0.65967,"c":0.66011},
      {"i":411,"o":0.66013,"h":0.66017,"l":0.66007,"c":0.66013},
      {"i":412,"o":0.66014,"h":0.66015,"l":0.65960,"c":0.66004},
      {"i":413,"o":0.66004,"h":0.66101,"l":0.66003,"c":0.66095},
      {"i":414,"o":0.66094,"h":0.66099,"l":0.66072,"c":0.66077},
      {"i":415,"o":0.66077,"h":0.66114,"l":0.66063,"c":0.66090},
      {"i":416,"o":0.66085,"h":0.66129,"l":0.66051,"c":0.66101},
      {"i":417,"o":0.66101,"h":0.66175,"l":0.66098,"c":0.66156},
      {"i":418,"o":0.66156,"h":0.66174,"l":0.66144,"c":0.66146},
      {"i":419,"o":0.66146,"h":0.66186,"l":0.66105,"c":0.66164},
      {"i":420,"o":0.66160,"h":0.66191,"l":0.66156,"c":0.66187},
      {"i":421,"o":0.66186,"h":0.66215,"l":0.66184,"c":0.66204},
      {"i":422,"o":0.66191,"h":0.66248,"l":0.66188,"c":0.66223},
      {"i":423,"o":0.66217,"h":0.66219,"l":0.66138,"c":0.66145},
      {"i":424,"o":0.66145,"h":0.66152,"l":0.66101,"c":0.66109},
      {"i":425,"o":0.66109,"h":0.66149,"l":0.66101,"c":0.66145},
      {"i":426,"o":0.66145,"h":0.66151,"l":0.66085,"c":0.66113},
      {"i":427,"o":0.66118,"h":0.66151,"l":0.66077,"c":0.66138},
      {"i":428,"o":0.66139,"h":0.66208,"l":0.66138,"c":0.66201},
      {"i":429,"o":0.66201,"h":0.66204,"l":0.66151,"c":0.66155},
      {"i":430,"o":0.66156,"h":0.66177,"l":0.66145,"c":0.66169},
      {"i":431,"o":0.66171,"h":0.66177,"l":0.66109,"c":0.66112},
      {"i":432,"o":0.66111,"h":0.66114,"l":0.66067,"c":0.66081},
      {"i":433,"o":0.66079,"h":0.66118,"l":0.66077,"c":0.66111},
      {"i":434,"o":0.66079,"h":0.66153,"l":0.66077,"c":0.66150},
      {"i":435,"o":0.66150,"h":0.66186,"l":0.66149,"c":0.66172},
      {"i":436,"o":0.66169,"h":0.66173,"l":0.66050,"c":0.66055},
      {"i":437,"o":0.66055,"h":0.66096,"l":0.66042,"c":0.66094},
      {"i":438,"o":0.66094,"h":0.66129,"l":0.66012,"c":0.66066},
      {"i":439,"o":0.66066,"h":0.66160,"l":0.66063,"c":0.66098},
      {"i":440,"o":0.66098,"h":0.66107,"l":0.66063,"c":0.66068},
      {"i":441,"o":0.66068,"h":0.66077,"l":0.66059,"c":0.66061},
      {"i":442,"o":0.66066,"h":0.66067,"l":0.65985,"c":0.65989},
      {"i":443,"o":0.65992,"h":0.65994,"l":0.65923,"c":0.65945},
      {"i":444,"o":0.65947,"h":0.65965,"l":0.65945,"c":0.65963},
      {"i":445,"o":0.65963,"h":0.66006,"l":0.65962,"c":0.66002},
      {"i":446,"o":0.65996,"h":0.66016,"l":0.65971,"c":0.66002},
      {"i":447,"o":0.66003,"h":0.66011,"l":0.65989,"c":0.65998},
      {"i":448,"o":0.66003,"h":0.66015,"l":0.66000,"c":0.66004},
      {"i":449,"o":0.66002,"h":0.66011,"l":0.65998,"c":0.66007},
      {"i":450,"o":0.66006,"h":0.66007,"l":0.65928,"c":0.65930},
      {"i":451,"o":0.65924,"h":0.65928,"l":0.65888,"c":0.65895},
      {"i":452,"o":0.65895,"h":0.65901,"l":0.65853,"c":0.65868},
      {"i":453,"o":0.65877,"h":0.65888,"l":0.65864,"c":0.65880},
      {"i":454,"o":0.65877,"h":0.65895,"l":0.65860,"c":0.65886},
      {"i":455,"o":0.65886,"h":0.65919,"l":0.65860,"c":0.65908},
      {"i":456,"o":0.65910,"h":0.65954,"l":0.65906,"c":0.65928},
      {"i":457,"o":0.65928,"h":0.65955,"l":0.65923,"c":0.65934},
      {"i":458,"o":0.65934,"h":0.65960,"l":0.65932,"c":0.65942},
      {"i":459,"o":0.65941,"h":0.65982,"l":0.65932,"c":0.65942},
      {"i":460,"o":0.65942,"h":0.65958,"l":0.65928,"c":0.65934},
      {"i":461,"o":0.65942,"h":0.65965,"l":0.65822,"c":0.65849},
      {"i":462,"o":0.65842,"h":0.65880,"l":0.65838,"c":0.65860},
      {"i":463,"o":0.65860,"h":0.65866,"l":0.65825,"c":0.65827},
      {"i":464,"o":0.65828,"h":0.65829,"l":0.65787,"c":0.65820},
      {"i":465,"o":0.65822,"h":0.65823,"l":0.65794,"c":0.65810},
      {"i":466,"o":0.65811,"h":0.65842,"l":0.65804,"c":0.65839}
    ],
    "levels": [
      {"p":0.66605,"label":"M30[+1/8]"},
      {"p":0.66528,"label":"D1[+2/8] H4[+2/8] H1RES M30RES"},
      {"p":0.66452,"label":"M30[7/8]"},
      {"p":0.66376,"label":"H1[7/8] M30[6/8]"},
      {"p":0.66299,"label":"M30[5/8]"},
      {"p":0.66223,"label":"D1[+1/8] H4[+1/8] H1[6/8] M30PIVOT"},
      {"p":0.66147,"label":"M30[3/8]"},
      {"p":0.66071,"label":"H1[5/8] M30[2/8]"},
      {"p":0.65994,"label":"M30[1/8]"},
      {"p":0.65918,"label":"MN1[3/8] W1[6/8] D1RES H4RES H1PIVOT M30SUP"},
      {"p":0.65842,"label":"M30[-1/8]"},
      {"p":0.65765,"label":"H1[3/8] M30[-2/8]"}
    ],
    "support": [{"p":0.65613}],
    "bid": [{"p":0.65839}],
    "arrows": [
      {"id":"b1","i":196.2,"p":0.64530},{"id":"b1","i":251.6,"p":0.65402},
      {"id":"b2","i":485.2,"p":0.65644},{"id":"b2","i":545.5,"p":0.66519},
      {"id":"r1","i":472.2,"p":0.65822},{"id":"r1","i":483.8,"p":0.65640},
      {"id":"r2","i":488.2,"p":0.65641},{"id":"r2","i":500.8,"p":0.65815},
      {"id":"r3","i":503.3,"p":0.65852},{"id":"r3","i":549.9,"p":0.66498}
    ],
    "heads": [
      {"id":"r1","i":485.3,"p":0.65616},
      {"id":"r2","i":502.5,"p":0.65838},
      {"id":"r3","i":551.6,"p":0.66521}
    ],
    "shift": [{"i":467,"p":0.66619}]
  },
  "layer": [
    {
      "data": {"name": "bars"},
      "mark": {"type": "rule", "color": "#000000", "strokeWidth": 1.3},
      "encoding": {
        "x": {
          "field": "i", "type": "quantitative",
          "scale": {"domain": [-0.8, 935.4], "nice": false, "zero": false},
          "axis": {
            "title": null,
            "values": [0,16,32,48,64,80,96,112,128,144,160,176,192,208,224,240,256,272,288,304,320,336,352,368,384,400,416,432,448,464,480,496,512,528,544,560,576,592,608,624,640,656,672,688,704,720,736,752,768,784,800,816,832,848,864,880,896,912,928],
            "grid": true, "gridColor": "#c4c4c4", "gridDash": [3, 3], "gridWidth": 1,
            "domain": false,
            "ticks": true, "tickSize": 5, "tickColor": "#000000", "tickWidth": 1.2,
            "tickOpacity": {"condition": {"test": "datum.value % 32 === 0 && datum.value <= 448", "value": 1}, "value": 0},
            "labelExpr": "datum.value % 32 === 0 && datum.value <= 448 ? ['11 Jul 2025','14 Jul 05:30','14 Jul 21:30','15 Jul 13:30','16 Jul 05:30','16 Jul 21:30','17 Jul 13:30','18 Jul 05:30','18 Jul 21:30','21 Jul 13:30','22 Jul 05:30','22 Jul 21:30','23 Jul 13:30','24 Jul 05:30','24 Jul 21:30'][datum.value / 32] : ''",
            "labelAlign": "left", "labelBaseline": "top", "labelPadding": 2,
            "labelFont": "DejaVu Sans Condensed, Liberation Sans Narrow, DejaVu Sans",
            "labelFontSize": 17, "labelFontWeight": "bold", "labelColor": "#000000",
            "labelOverlap": false, "labelFlush": false
          }
        },
        "y": {
          "field": "l", "type": "quantitative",
          "scale": {"domain": [0.642244, 0.666267], "nice": false, "zero": false},
          "axis": {
            "title": null, "orient": "right",
            "values": [0.64265,0.64345,0.64425,0.64505,0.64585,0.64665,0.64745,0.64825,0.64905,0.64985,0.65065,0.65145,0.65225,0.65305,0.65385,0.65465,0.65545,0.65625,0.65705,0.65785,0.65865,0.65945,0.66025,0.66105,0.66185,0.66265,0.66345,0.66425,0.66505,0.66585],
            "format": ".5f",
            "grid": true, "gridColor": "#c4c4c4", "gridDash": [3, 3], "gridWidth": 1,
            "domain": false, "tickSize": 4, "tickColor": "#000000",
            "labelPadding": 4, "labelFont": "DejaVu Sans", "labelFontSize": 16,
            "labelColor": "#000000", "labelBaseline": "middle",
            "labelOverlap": false, "labelFlush": false
          }
        },
        "y2": {"field": "h"}
      }
    },
    {
      "data": {"name": "bars"},
      "mark": {"type": "bar", "width": 2.3, "stroke": "#000000", "strokeWidth": 1},
      "encoding": {
        "x": {"field": "i", "type": "quantitative"},
        "y": {"field": "o", "type": "quantitative"},
        "y2": {"field": "c"},
        "fill": {"condition": {"test": "datum.c >= datum.o", "value": "#ffffff"}, "value": "#000000"}
      }
    },
    {
      "data": {"name": "bid"},
      "mark": {"type": "rule", "color": "#b8b8b8", "strokeWidth": 1.2},
      "encoding": {"y": {"field": "p", "type": "quantitative"}}
    },
    {
      "data": {"name": "levels"},
      "mark": {"type": "rule"},
      "encoding": {
        "y": {"field": "p", "type": "quantitative"},
        "color": {
          "field": "label", "type": "nominal", "legend": null,
          "scale": {
            "domain": ["M30[+1/8]","D1[+2/8] H4[+2/8] H1RES M30RES","M30[7/8]","H1[7/8] M30[6/8]","M30[5/8]","D1[+1/8] H4[+1/8] H1[6/8] M30PIVOT","M30[3/8]","H1[5/8] M30[2/8]","M30[1/8]","MN1[3/8] W1[6/8] D1RES H4RES H1PIVOT M30SUP","M30[-1/8]","H1[3/8] M30[-2/8]"],
            "range": ["#ff00ff","#1e90ff","#ff8c00","#ff4500","#556b2f","#1e90ff","#556b2f","#ff4500","#ff8c00","#1e90ff","#ff00ff","#c71585"]
          }
        },
        "strokeDash": {
          "field": "label", "type": "nominal", "legend": null,
          "scale": {
            "domain": ["M30[+1/8]","D1[+2/8] H4[+2/8] H1RES M30RES","M30[7/8]","H1[7/8] M30[6/8]","M30[5/8]","D1[+1/8] H4[+1/8] H1[6/8] M30PIVOT","M30[3/8]","H1[5/8] M30[2/8]","M30[1/8]","MN1[3/8] W1[6/8] D1RES H4RES H1PIVOT M30SUP","M30[-1/8]","H1[3/8] M30[-2/8]"],
            "range": [[14,5,3,5],[1,0],[14,5,3,5],[14,5,3,5],[14,5,3,5],[1,0],[14,5,3,5],[14,5,3,5],[14,5,3,5],[1,0],[14,5,3,5],[14,5,3,5]]
          }
        },
        "strokeWidth": {"condition": {"test": "datum.p === 0.65918", "value": 2.6}, "value": 1.2}
      }
    },
    {
      "data": {"name": "support"},
      "mark": {"type": "rule", "color": "#ff0000", "strokeWidth": 1.2},
      "encoding": {"y": {"field": "p", "type": "quantitative"}}
    },
    {
      "data": {"name": "levels"},
      "mark": {"type": "text", "font": "Liberation Sans", "fontSize": 21, "align": "center", "baseline": "middle", "dy": 11},
      "encoding": {
        "x": {"datum": 440, "type": "quantitative"},
        "y": {"field": "p", "type": "quantitative"},
        "text": {"field": "label"},
        "color": {"field": "label", "type": "nominal", "legend": null}
      }
    },
    {
      "data": {"name": "arrows"},
      "transform": [{"filter": "datum.id === 'b1' || datum.id === 'b2'"}],
      "mark": {"type": "line", "color": "#4153ef", "strokeWidth": 5, "strokeCap": "round"},
      "encoding": {
        "x": {"field": "i", "type": "quantitative"},
        "y": {"field": "p", "type": "quantitative"},
        "detail": {"field": "id"}
      }
    },
    {
      "data": {"name": "arrows"},
      "transform": [{"filter": "datum.id === 'r3'"}],
      "mark": {"type": "line", "color": "#ef4444", "strokeWidth": 5, "strokeCap": "round"},
      "encoding": {
        "x": {"field": "i", "type": "quantitative"},
        "y": {"field": "p", "type": "quantitative"}
      }
    },
    {
      "data": {"name": "arrows"},
      "transform": [{"filter": "datum.id === 'r1' || datum.id === 'r2'"}],
      "mark": {"type": "line", "color": "#ef4444", "strokeWidth": 5, "strokeDash": [16, 9]},
      "encoding": {
        "x": {"field": "i", "type": "quantitative"},
        "y": {"field": "p", "type": "quantitative"},
        "detail": {"field": "id"}
      }
    },
    {
      "data": {"name": "heads"},
      "transform": [{"filter": "datum.id === 'r1'"}],
      "mark": {"type": "point", "shape": "M0,0L0.7,1.6L-0.7,1.6Z", "size": 900, "filled": true, "opacity": 1, "color": "#ef4444", "angle": 162.6},
      "encoding": {"x": {"field": "i", "type": "quantitative"}, "y": {"field": "p", "type": "quantitative"}}
    },
    {
      "data": {"name": "heads"},
      "transform": [{"filter": "datum.id === 'r2'"}],
      "mark": {"type": "point", "shape": "M0,0L0.7,1.6L-0.7,1.6Z", "size": 900, "filled": true, "opacity": 1, "color": "#ef4444", "angle": 19.6},
      "encoding": {"x": {"field": "i", "type": "quantitative"}, "y": {"field": "p", "type": "quantitative"}}
    },
    {
      "data": {"name": "heads"},
      "transform": [{"filter": "datum.id === 'r3'"}],
      "mark": {"type": "point", "shape": "M0,0L0.7,1.6L-0.7,1.6Z", "size": 900, "filled": true, "opacity": 1, "color": "#ef4444", "angle": 19.5},
      "encoding": {"x": {"field": "i", "type": "quantitative"}, "y": {"field": "p", "type": "quantitative"}}
    },
    {
      "data": {"name": "shift"},
      "mark": {"type": "point", "shape": "M-1,-0.5L1,-0.5L0,0.5Z", "size": 400, "filled": true, "opacity": 1, "color": "#aaaaaa"},
      "encoding": {"x": {"field": "i", "type": "quantitative"}, "y": {"field": "p", "type": "quantitative"}}
    },
    {
      "data": {"name": "levels"},
      "mark": {"type": "point", "shape": "M-1,-0.275L1,-0.275L1,0.275L-1,0.275Z", "size": 6400, "filled": true, "opacity": 1, "strokeWidth": 0},
      "encoding": {
        "x": {"datum": 945.7, "type": "quantitative"},
        "y": {"field": "p", "type": "quantitative"},
        "color": {"field": "label", "type": "nominal", "legend": null}
      }
    },
    {
      "data": {"name": "support"},
      "mark": {"type": "point", "shape": "M-1,-0.275L1,-0.275L1,0.275L-1,0.275Z", "size": 6400, "filled": true, "opacity": 1, "strokeWidth": 0, "color": "#ff0000"},
      "encoding": {
        "x": {"datum": 945.7, "type": "quantitative"},
        "y": {"field": "p", "type": "quantitative"}
      }
    },
    {
      "data": {"name": "levels"},
      "mark": {"type": "text", "font": "DejaVu Sans", "fontSize": 16, "align": "left", "baseline": "middle", "color": "#ffffff"},
      "encoding": {
        "x": {"datum": 937.2, "type": "quantitative"},
        "y": {"field": "p", "type": "quantitative"},
        "text": {"field": "p", "type": "quantitative", "format": ".5f"}
      }
    },
    {
      "data": {"name": "support"},
      "mark": {"type": "text", "font": "DejaVu Sans", "fontSize": 16, "align": "left", "baseline": "middle", "color": "#ffffff"},
      "encoding": {
        "x": {"datum": 937.2, "type": "quantitative"},
        "y": {"field": "p", "type": "quantitative"},
        "text": {"field": "p", "type": "quantitative", "format": ".5f"}
      }
    }
  ]
}
